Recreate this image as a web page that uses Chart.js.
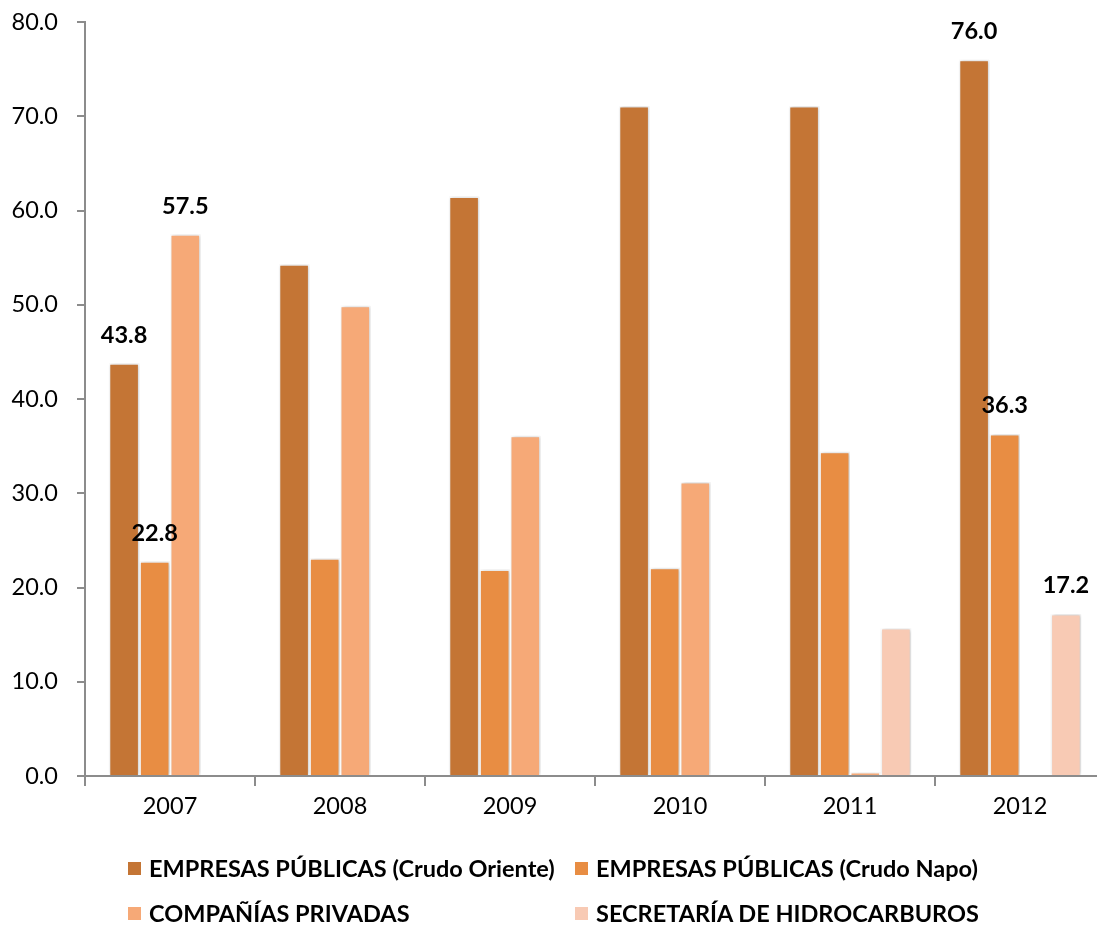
<!DOCTYPE html>
<html>
<head>
<meta charset="utf-8">
<script src="https://cdn.jsdelivr.net/npm/chart.js@4"></script>
<style>
  html, body { margin: 0; padding: 0; background: #fff; overflow: hidden; }
  #wrap { position: relative; width: 1097px; height: 925px; overflow: hidden; }
  #produccion { position: absolute; left: 0; top: -11px; }
  #legend { position: absolute; left: 0; top: 0; width: 1097px; height: 925px; pointer-events: none;
            font-family: Lato, "Open Sans", sans-serif; font-weight: bold; font-size: 23.5px; color: #000; }
  .item { position: absolute; display: flex; align-items: center; white-space: nowrap; }
  .box { width: 13px; height: 13px; margin-right: 8px; }
</style>
</head>
<body>
<div id="wrap">
  <canvas id="produccion" width="1110" height="841"></canvas>
  <div id="legend"></div>
</div>
<script>
// Years on the x axis
const years = ['2007', '2008', '2009', '2010', '2011', '2012'];

// Series values (null = no bar for that year)
const crudoOriente = [43.8, 54.3, 61.5, 71.1, 71.1, 76.0];
const crudoNapo = [22.8, 23.1, 21.9, 22.1, 34.4, 36.3];
const companiasPrivadas = [57.5, 49.9, 36.1, 31.2, 0.4, null];
const secretaria = [null, null, null, null, 15.7, 17.2];

const seriesNames = [
    'EMPRESAS PÚBLICAS (Crudo Oriente)',
    'EMPRESAS PÚBLICAS (Crudo Napo)',
    'COMPAÑÍAS PRIVADAS',
    'SECRETARÍA DE HIDROCARBUROS'
];
const seriesColors = ['#C47535', '#E88D43', '#F6A977', '#F8CAB4'];

// Only some bars carry a value label: [series, year index]
const labeledBars = [[0, 0], [1, 0], [2, 0], [0, 5], [1, 5], [3, 5]];

const fontFamily = 'Lato, "Open Sans", sans-serif';

const ctx = document.getElementById('produccion').getContext('2d');

const datasets = [crudoOriente, crudoNapo, companiasPrivadas, secretaria].map((values, i) => ({
    label: seriesNames[i],
    data: values,
    backgroundColor: seriesColors[i],
    borderColor: '#ffffff',
    borderWidth: 1.5,
    borderSkipped: 'bottom',
    categoryPercentage: 0.72,
    barPercentage: 1.0
}));

// soft drop shadow behind the bars
const barShadow = {
    id: 'barShadow',
    beforeDatasetsDraw(chart) {
        const c = chart.ctx;
        c.save();
        c.shadowColor = 'rgba(0,0,0,0.22)';
        c.shadowBlur = 4;
        c.shadowOffsetX = 1;
        c.shadowOffsetY = 0;
    },
    afterDatasetsDraw(chart) {
        chart.ctx.restore();
    }
};

// bold value labels above selected bars
const valueLabels = {
    id: 'valueLabels',
    afterDatasetsDraw(chart) {
        const c = chart.ctx;
        c.save();
        c.font = 'bold 23.5px ' + fontFamily;
        c.fillStyle = '#000';
        c.textAlign = 'center';
        c.textBaseline = 'middle';
        labeledBars.forEach(([ds, idx]) => {
            const bar = chart.getDatasetMeta(ds).data[idx];
            const value = chart.data.datasets[ds].data[idx];
            c.fillText(value.toFixed(1), bar.x, bar.y - 28);
        });
        c.restore();
    }
};

new Chart(ctx, {
    type: 'bar',
    data: { labels: years, datasets: datasets },
    options: {
        responsive: false,
        animation: false,
        layout: { padding: { top: 12, right: 5, left: 0, bottom: 0 } },
        plugins: {
            legend: { display: false },
            tooltip: { enabled: false }
        },
        scales: {
            x: {
                afterFit: s => { s.height = 54; },
                border: { color: '#8c8c8c', width: 2 },
                grid: { display: true, drawOnChartArea: false, offset: true, tickLength: 10, color: '#8c8c8c', lineWidth: 2 },
                ticks: { color: '#000', font: { family: fontFamily, size: 23.5 }, padding: 6 }
            },
            y: {
                min: 0,
                max: 80,
                afterFit: s => { s.width = 85; },
                border: { color: '#8c8c8c', width: 2 },
                grid: { display: true, drawOnChartArea: false, tickLength: 8, color: '#8c8c8c', lineWidth: 2 },
                ticks: {
                    stepSize: 10,
                    padding: 19,
                    color: '#000',
                    font: { family: fontFamily, size: 23.5 },
                    callback: v => v.toFixed(1)
                }
            }
        }
    },
    plugins: [barShadow, valueLabels]
});

// two-column legend under the plot
const legendPos = [[128, 868], [575, 868], [128, 913], [575, 913]];
const legendEl = document.getElementById('legend');
seriesNames.forEach((name, i) => {
    const item = document.createElement('div');
    item.className = 'item';
    item.style.left = legendPos[i][0] + 'px';
    item.style.top = (legendPos[i][1] - 14) + 'px';
    item.style.height = '28px';
    const box = document.createElement('span');
    box.className = 'box';
    box.style.background = seriesColors[i];
    const text = document.createElement('span');
    text.textContent = name;
    item.appendChild(box);
    item.appendChild(text);
    legendEl.appendChild(item);
});
</script>
</body>
</html>
